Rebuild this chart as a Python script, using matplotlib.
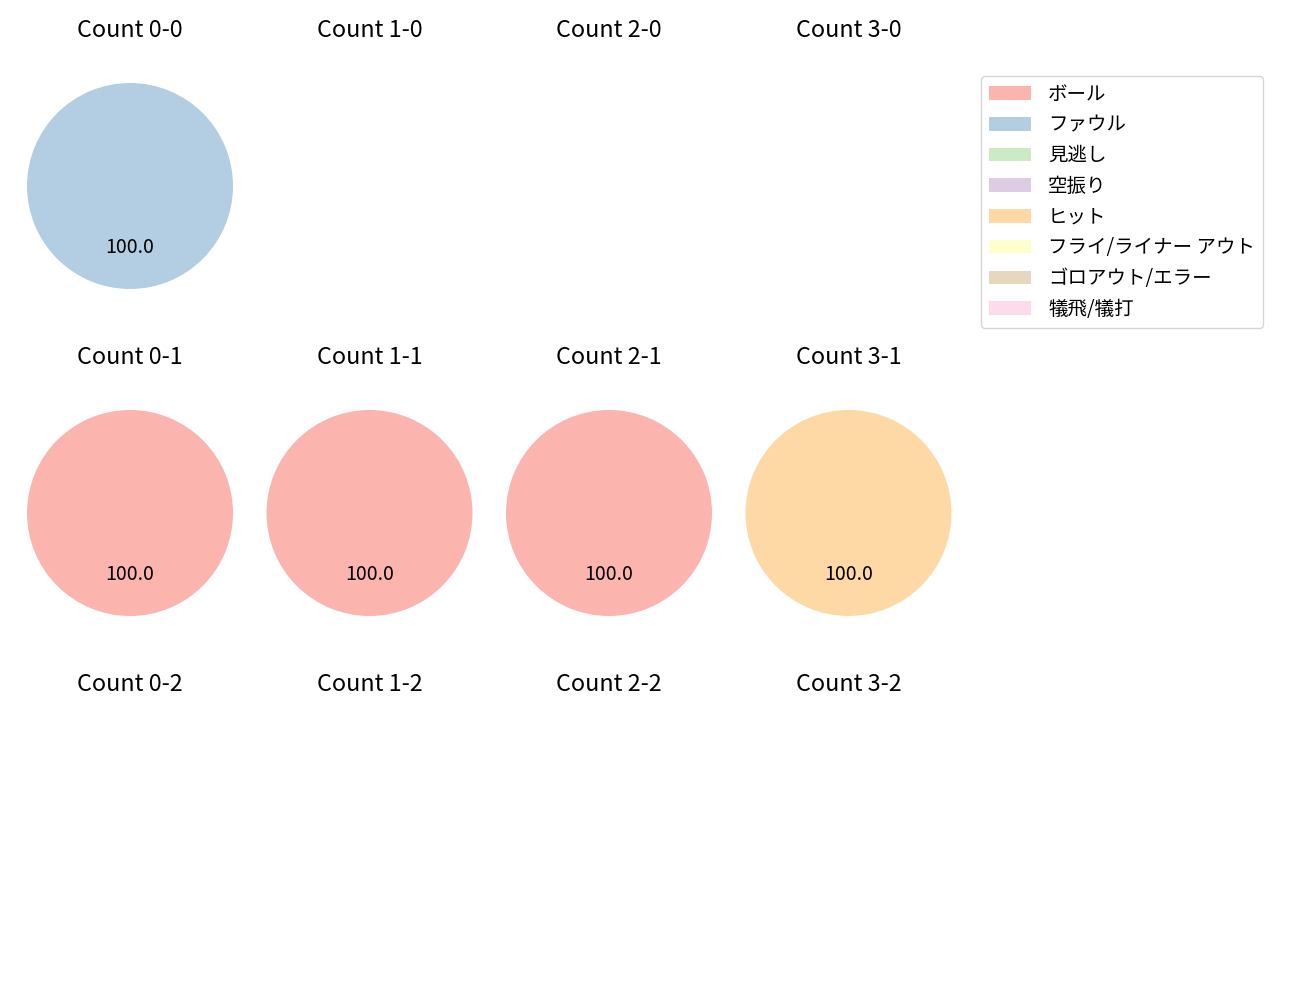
import matplotlib
matplotlib.use("Agg")
import matplotlib.pyplot as plt
from matplotlib.patches import Patch

plt.rcParams["font.family"] = ["Noto Sans CJK JP", "DejaVu Sans"]
plt.rcParams["font.size"] = 14

categories = ["ボール", "ファウル", "見逃し", "空振り", "ヒット",
              "フライ/ライナー アウト", "ゴロアウト/エラー", "犠飛/犠打"]
colors = ["#fbb4ae", "#b3cde3", "#ccebc5", "#decbe4", "#fed9a6",
          "#ffffcc", "#e5d8bd", "#fddaec"]

# pitch results per count (balls-strikes); empty list = no data
counts = {
    "0-0": [0, 1, 0, 0, 0, 0, 0, 0],
    "1-0": [],
    "2-0": [],
    "3-0": [],
    "0-1": [1, 0, 0, 0, 0, 0, 0, 0],
    "1-1": [1, 0, 0, 0, 0, 0, 0, 0],
    "2-1": [1, 0, 0, 0, 0, 0, 0, 0],
    "3-1": [0, 0, 0, 0, 1, 0, 0, 0],
    "0-2": [],
    "1-2": [],
    "2-2": [],
    "3-2": [],
}

fig, axes = plt.subplots(3, 4, figsize=(13, 10))
fig.subplots_adjust(left=0.0154, right=0.7373, top=0.955, bottom=0.019,
                    wspace=0.0886, hspace=0.1596)

for ax, (name, vals) in zip(axes.flat, counts.items()):
    ax.set_title(f"Count {name}")
    ax.set_aspect("equal", adjustable="datalim")
    ax.axis("off")
    if sum(vals) > 0:
        nz = [(v, c) for v, c in zip(vals, colors) if v > 0]
        ax.pie([v for v, _ in nz], colors=[c for _, c in nz],
               autopct="%.1f", startangle=90, counterclock=False,
               pctdistance=0.6)
    ax.set_ylim(-1.369, 1.369)
    ax.set_xlim(-1.068, 1.068)

handles = [Patch(facecolor=c, label=l) for c, l in zip(colors, categories)]
fig.legend(handles=handles, loc="upper left", bbox_to_anchor=(0.7546, 0.924),
           borderaxespad=0, handlelength=2.15, handletextpad=0.9)

fig.savefig("out.png", dpi=100)
